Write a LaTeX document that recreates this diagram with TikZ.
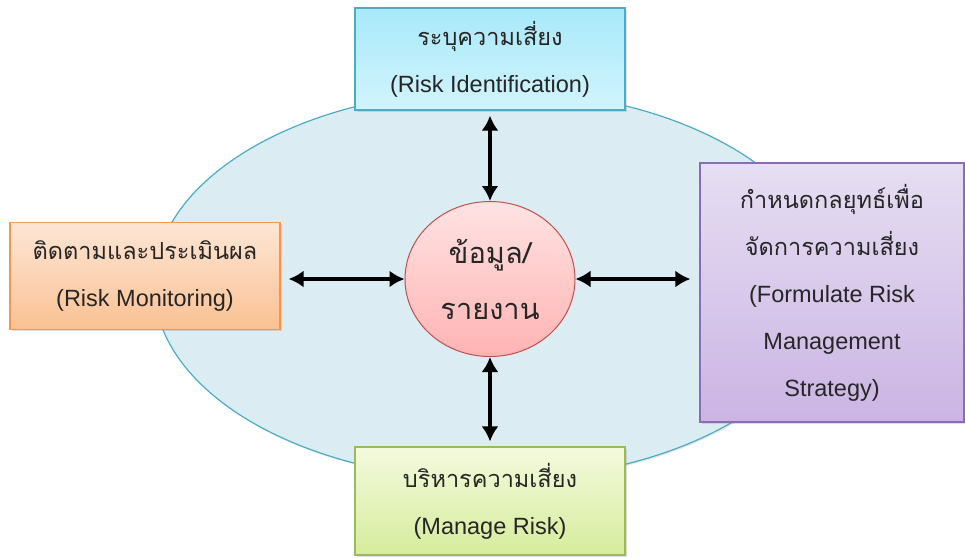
\documentclass[tikz,border=0pt]{standalone}
\usepackage{fontspec}
\setmainfont{Liberation Sans}
\newfontfamily\thaifont[Script=Thai]{Loma}
\usepackage{tikz}
\usetikzlibrary{arrows.meta,shapes.geometric,shadows}
\newcommand{\thtxt}[1]{{\thaifont #1}}
\definecolor{ringfill}{HTML}{DBECF2}
\definecolor{ringline}{HTML}{4BACC6}
\definecolor{identtop}{HTML}{A8E9FA}
\definecolor{identbot}{HTML}{D2F4FD}
\definecolor{montop}{HTML}{FDE6D5}
\definecolor{monbot}{HTML}{FAC193}
\definecolor{monline}{HTML}{F79646}
\definecolor{strattop}{HTML}{E6DEF2}
\definecolor{stratbot}{HTML}{CBB4E4}
\definecolor{stratline}{HTML}{8C6DB4}
\definecolor{mantop}{HTML}{F4FADE}
\definecolor{manbot}{HTML}{D6EC9C}
\definecolor{manline}{HTML}{9BBB59}
\definecolor{infotop}{HTML}{FFE3E3}
\definecolor{infobot}{HTML}{FFB3B3}
\definecolor{infoline}{HTML}{C0504D}
\begin{document}
\begin{tikzpicture}[x=1pt,y=-1pt,
    box/.style={draw,line width=1.2pt,rectangle,align=center,text=black!85,
        font=\fontsize{23.5}{47}\selectfont,
        drop shadow={opacity=0.25,shadow xshift=1.5pt,shadow yshift=-1.5pt}},
    biarrow/.style={{Latex[length=15pt,width=17pt]}-{Latex[length=15pt,width=17pt]},line width=4.4pt,black}]
    \useasboundingbox (0,0) rectangle (965,558);
    % background ring
    \draw[fill=ringfill,draw=ringline,line width=1.2pt,
        drop shadow={opacity=0.2,shadow xshift=1.5pt,shadow yshift=-1.5pt}]
        (492,285) ellipse [x radius=338,y radius=195];
    % the four steps
    \node[box,draw=ringline,top color=identtop,bottom color=identbot,
        minimum width=270pt,minimum height=102pt] (ident) at (490,59)
        {\thtxt{ระบุความเสี่ยง}\\(Risk Identification)};
    \node[box,draw=monline,top color=montop,bottom color=monbot,
        minimum width=270pt,minimum height=107pt] (monitor) at (145,276)
        {\thtxt{ติดตามและประเมินผล}\\(Risk Monitoring)};
    \node[box,draw=stratline,top color=strattop,bottom color=stratbot,
        minimum width=264pt,minimum height=259pt] (strategy) at (832,292.5)
        {\thtxt{กำหนดกลยุทธ์เพื่อ}\\\thtxt{จัดการความเสี่ยง}\\(Formulate Risk\\Management\\Strategy)};
    \node[box,draw=manline,top color=mantop,bottom color=manbot,
        minimum width=270pt,minimum height=108pt] (manage) at (490,501)
        {\thtxt{บริหารความเสี่ยง}\\(Manage Risk)};
    % centre
    \node[draw=infoline,line width=1pt,ellipse,align=center,text=black!85,
        top color=infotop,bottom color=infobot,
        minimum width=170pt,minimum height=155pt,
        font=\fontsize{29}{56}\selectfont] (info) at (490,279)
        {\thtxt{ข้อมูล/}\\\thtxt{รายงาน}};
    % links
    \draw[biarrow,shorten <=5pt] (ident) -- (info);
    \draw[biarrow,shorten <=5pt] (manage) -- (info);
    \draw[biarrow,shorten <=8pt] (info.west -| monitor.east) -- (info.west);
    \draw[biarrow,shorten >=9pt] (info.east) -- (info.east -| strategy.west);
\end{tikzpicture}
\end{document}
